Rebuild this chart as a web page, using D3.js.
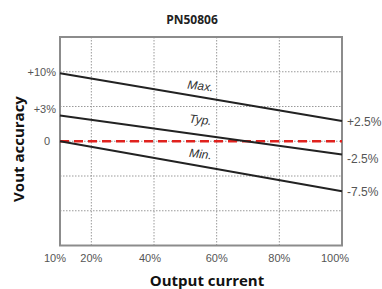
<!DOCTYPE html>
<html>
<head>
<meta charset="utf-8">
<script src="https://cdn.jsdelivr.net/npm/d3@7"></script>
<style>
  html, body { margin: 0; padding: 0; background: #fff; }
  svg { display: block; }
</style>
</head>
<body>
<div id="chart"></div>
<script>
// Load points on the x axis (output current, %)
const loads = [10, 100];

// Vout accuracy lines (schematic % units)
const maxVals = [9.8, 2.9];
const typVals = [3.7, -1.9];
const minVals = [0, -7.2];
const refVals = [0, 0];

const seriesNames = ["Max.", "Typ.", "Min."];

// Tick labels
const xTicks = [10, 20, 40, 60, 80, 100];
const xGrid = [20, 40, 60, 80];
const yGrid = [-10, -5, 0, 5, 10];
const leftLabels = ["+10%", "+3%", "0"];
const leftLabelVals = [10, 4.6, 0];
const rightLabels = ["+2.5%", "-2.5%", "-7.5%"];

const width = 382, height = 289;

const svg = d3.select("#chart")
  .append("svg")
  .attr("width", width)
  .attr("height", height);

const x = d3.scaleLinear().domain([10, 100]).range([60, 342]);
const y = d3.scaleLinear().domain([-15, 15]).range([245.5, 37]);

// grid
svg.append("g").selectAll("line")
  .data(xGrid)
  .enter().append("line")
  .attr("x1", d => x(d)).attr("x2", d => x(d))
  .attr("y1", y(15)).attr("y2", y(-15))
  .attr("stroke", "#9a9a9a")
  .attr("stroke-width", 1)
  .attr("stroke-dasharray", "1.5,1.5");

svg.append("g").selectAll("line")
  .data(yGrid)
  .enter().append("line")
  .attr("x1", x(10)).attr("x2", x(100))
  .attr("y1", d => y(d)).attr("y2", d => y(d))
  .attr("stroke", "#9a9a9a")
  .attr("stroke-width", 1)
  .attr("stroke-dasharray", "1.5,1.5");

// frame
svg.append("rect")
  .attr("x", x(10)).attr("y", y(15))
  .attr("width", x(100) - x(10))
  .attr("height", y(-15) - y(15))
  .attr("fill", "none")
  .attr("stroke", "#8c8c8c")
  .attr("stroke-width", 2);

const line = d3.line()
  .x((d, i) => x(loads[i]))
  .y(d => y(d));

// red dashed zero reference
svg.append("path")
  .datum(refVals)
  .attr("d", line)
  .attr("fill", "none")
  .attr("stroke", "#e0221e")
  .attr("stroke-width", 2.5)
  .attr("stroke-dasharray", "9,5");

const series = [maxVals, typVals, minVals];

svg.append("g").selectAll("path")
  .data(series)
  .enter().append("path")
  .attr("d", line)
  .attr("fill", "none")
  .attr("stroke", "#222")
  .attr("stroke-width", 2);

// line names, tilted along the lines
const angle = Math.atan2(y(maxVals[1]) - y(maxVals[0]), x(loads[1]) - x(loads[0])) * 180 / Math.PI;
const nameLift = [7, 11, 8];
svg.append("g").selectAll("text")
  .data(series)
  .enter().append("text")
  .attr("transform", (d, i) => {
    const lx = 200;
    const t = (lx - x(loads[0])) / (x(loads[1]) - x(loads[0]));
    const ly = y(d[0] + (d[1] - d[0]) * t) - nameLift[i];
    return `translate(${lx},${ly}) rotate(${angle * 0.7})`;
  })
  .attr("text-anchor", "middle")
  .attr("font-family", "Liberation Sans, Arial, sans-serif")
  .attr("font-style", "italic")
  .attr("font-size", 12)
  .attr("fill", "#333")
  .text((d, i) => seriesNames[i]);

// x tick labels
svg.append("g").selectAll("text")
  .data(xTicks)
  .enter().append("text")
  .attr("x", d => x(d) + (d === 10 ? -5 : d === 100 ? -7 : d === 40 ? -4 : 0))
  .attr("y", 262)
  .attr("text-anchor", "middle")
  .attr("font-family", "Liberation Sans, Arial, sans-serif")
  .attr("font-size", 11)
  .attr("fill", "#555")
  .text(d => d + "%");

// left labels
svg.append("g").selectAll("text")
  .data(leftLabels)
  .enter().append("text")
  .attr("x", d => d === "0" ? 50 : 56)
  .attr("y", (d, i) => y(leftLabelVals[i]))
  .attr("dy", "0.35em")
  .attr("text-anchor", "end")
  .attr("font-family", "Liberation Sans, Arial, sans-serif")
  .attr("font-size", 11)
  .attr("fill", "#555")
  .text(d => d);

// right labels at line ends
svg.append("g").selectAll("text")
  .data(rightLabels)
  .enter().append("text")
  .attr("x", 347)
  .attr("y", (d, i) => y(series[i][1]) + (i === 1 ? 4 : 1))
  .attr("dy", "0.35em")
  .attr("font-family", "Liberation Sans, Arial, sans-serif")
  .attr("font-size", 12)
  .attr("fill", "#555")
  .text(d => d);

// titles
svg.append("text")
  .attr("x", 192).attr("y", 24)
  .attr("text-anchor", "middle")
  .attr("font-family", "Open Sans, sans-serif")
  .attr("font-weight", "bold")
  .attr("font-size", 12)
  .attr("fill", "#222")
  .text("PN50806");

svg.append("text")
  .attr("x", 207).attr("y", 286)
  .attr("text-anchor", "middle")
  .attr("font-family", "Open Sans, sans-serif")
  .attr("font-weight", "bold")
  .attr("font-size", 15)
  .attr("fill", "#111")
  .text("Output current");

svg.append("text")
  .attr("transform", "translate(24,149) rotate(-90)")
  .attr("text-anchor", "middle")
  .attr("font-family", "Open Sans, sans-serif")
  .attr("font-weight", "bold")
  .attr("font-size", 15)
  .attr("fill", "#111")
  .text("Vout accuracy");
</script>
</body>
</html>
